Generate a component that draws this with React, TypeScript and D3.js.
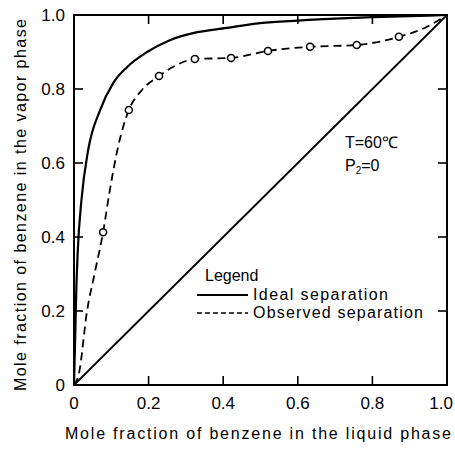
import React from "react";
import * as d3 from "d3";

const tickValues = [0, 0.2, 0.4, 0.6, 0.8, 1.0];
const tickLabels = ["0", "0.2", "0.4", "0.6", "0.8", "1.0"];

// Ideal separation curve (liquid x, vapor y)
const idealX = [0, 0.003, 0.006, 0.01, 0.02, 0.038, 0.07, 0.105, 0.142, 0.196, 0.257, 0.319, 0.41, 0.499, 0.6, 0.7, 0.8, 0.9, 1.0];
const idealY = [0, 0.12, 0.25, 0.36, 0.5, 0.635, 0.743, 0.816, 0.859, 0.9, 0.932, 0.951, 0.965, 0.978, 0.985, 0.99, 0.994, 0.997, 1.0];

// Observed separation curve
const obsCurveX = [0, 0.013, 0.035, 0.055, 0.078, 0.095, 0.118, 0.147, 0.18, 0.228, 0.27, 0.324, 0.421, 0.52, 0.633, 0.758, 0.871, 0.94, 1.0];
const obsCurveY = [0, 0.03, 0.2, 0.3, 0.413, 0.52, 0.643, 0.743, 0.795, 0.835, 0.862, 0.881, 0.884, 0.903, 0.914, 0.919, 0.941, 0.965, 1.0];

// Observed data points (circles)
const obsPointX = [0.078, 0.147, 0.228, 0.324, 0.421, 0.52, 0.633, 0.758, 0.871];
const obsPointY = [0.413, 0.743, 0.835, 0.881, 0.884, 0.903, 0.914, 0.919, 0.941];

const diagonalX = [0, 1];
const diagonalY = [0, 1];

const xTitle = "Mole fraction of benzene in the liquid phase";
const yTitle = "Mole fraction of benzene in the vapor phase";
const legendTitle = "Legend";
const legendLabels = ["Ideal separation", "Observed separation"];

export default function App() {
  const W = 455, H = 449;
  const L = 74, R = 447, T = 15, B = 385;
  const x = d3.scaleLinear().domain([0, 1]).range([L, R]);
  const y = d3.scaleLinear().domain([0, 1]).range([B, T]);
  const line = d3
    .line<[number, number]>()
    .x((d) => x(d[0]))
    .y((d) => y(d[1]))
    .curve(d3.curveMonotoneX);
  const straight = d3
    .line<[number, number]>()
    .x((d) => x(d[0]))
    .y((d) => y(d[1]));

  const ideal = idealX.map((v, i) => [v, idealY[i]] as [number, number]);
  const obs = obsCurveX.map((v, i) => [v, obsCurveY[i]] as [number, number]);
  const diag = diagonalX.map((v, i) => [v, diagonalY[i]] as [number, number]);
  const font = "'Liberation Sans', Arial, Helvetica, sans-serif";
  const tk = 9;
  const inner = tickValues.slice(1, -1);
  const last = tickValues.length - 1;

  return (
    <svg
      width={W}
      height={H}
      style={{ position: "absolute", left: 0, top: 0, background: "#fff" }}
      fontFamily={font}
    >
      <rect x={0} y={0} width={W} height={H} fill="#fff" />
      {/* frame */}
      <rect x={L} y={T} width={R - L} height={B - T} fill="none" stroke="#000" strokeWidth={2} />
      {/* ticks */}
      {inner.map((v, i) => (
        <g key={"t" + i} stroke="#000" strokeWidth={1.6}>
          <line x1={x(v)} x2={x(v)} y1={B} y2={B - tk} />
          <line x1={x(v)} x2={x(v)} y1={T} y2={T + tk} />
          <line x1={L} x2={L + tk} y1={y(v)} y2={y(v)} />
          <line x1={R} x2={R - tk} y1={y(v)} y2={y(v)} />
        </g>
      ))}
      {/* tick labels */}
      {tickValues.map((v, i) => (
        <text
          key={"xl" + i}
          x={i === last ? 453 : x(v)}
          y={409}
          textAnchor={i === last ? "end" : "middle"}
          fontSize={17}
        >
          {tickLabels[i]}
        </text>
      ))}
      {tickValues.map((v, i) => (
        <text key={"yl" + i} x={65} y={y(v) + 6} textAnchor="end" fontSize={17}>
          {tickLabels[i]}
        </text>
      ))}
      {/* axis titles */}
      <text x={258} y={439} textAnchor="middle" fontSize={16} textLength={386} lengthAdjust="spacing">
        {xTitle}
      </text>
      <text
        transform={`translate(26,205) rotate(-90)`}
        textAnchor="middle"
        fontSize={16}
        textLength={372}
        lengthAdjust="spacing"
      >
        {yTitle}
      </text>
      {/* curves */}
      <path d={straight(diag) || ""} fill="none" stroke="#000" strokeWidth={1.8} />
      <path d={line(ideal) || ""} fill="none" stroke="#000" strokeWidth={2.2} />
      <path d={line(obs) || ""} fill="none" stroke="#000" strokeWidth={1.8} strokeDasharray="8,5" />
      {obsPointX.map((v, i) => (
        <circle key={"c" + i} cx={x(v)} cy={y(obsPointY[i])} r={3.5} fill="#fff" stroke="#000" strokeWidth={1.5} />
      ))}
      {/* annotation */}
      <text x={345} y={148} fontSize={16}>T=60℃</text>
      <text x={345} y={171} fontSize={16}>
        P<tspan fontSize={10} dy={3}>2</tspan>
        <tspan dy={-3}>=0</tspan>
      </text>
      {/* legend */}
      <text x={205} y={281} fontSize={16}>{legendTitle}</text>
      <line x1={197} x2={248} y1={295} y2={295} stroke="#000" strokeWidth={1.8} />
      <text x={253} y={300} fontSize={16} textLength={135} lengthAdjust="spacing">{legendLabels[0]}</text>
      <line x1={197} x2={248} y1={313} y2={313} stroke="#000" strokeWidth={1.5} strokeDasharray="5,3" />
      <text x={253} y={318} fontSize={16} textLength={170} lengthAdjust="spacing">{legendLabels[1]}</text>
    </svg>
  );
}
